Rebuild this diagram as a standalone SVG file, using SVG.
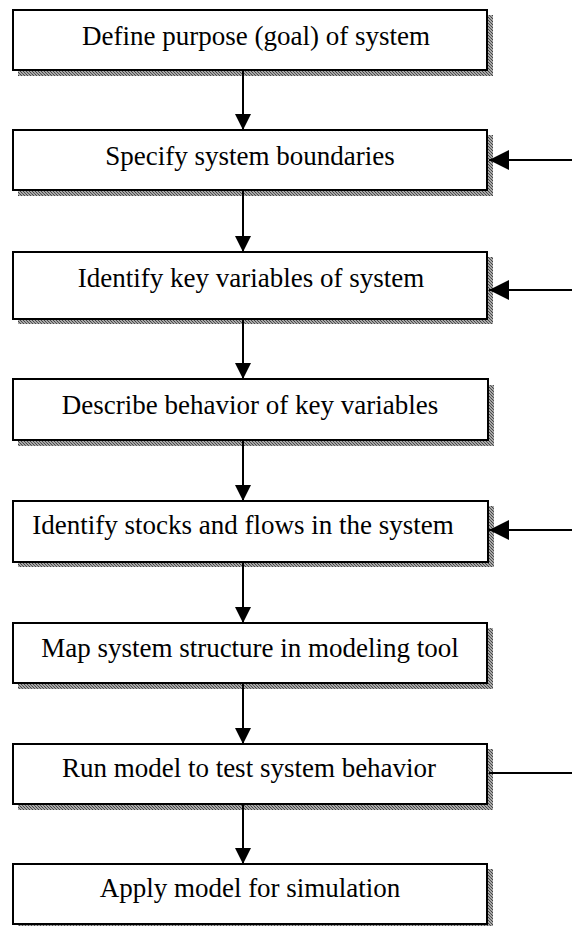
<svg xmlns="http://www.w3.org/2000/svg" width="572" height="926" viewBox="0 0 572 926">
<defs>
<pattern id="hatch" width="3" height="3" patternUnits="userSpaceOnUse">
<rect width="3" height="3" fill="#a8a8a8"/>
<rect x="0" y="0" width="1" height="1" fill="#444"/>
<rect x="1" y="1" width="1" height="1" fill="#555"/>
<rect x="2" y="2" width="1" height="1" fill="#444"/>
</pattern>
<marker id="ah" viewBox="0 0 16 16" refX="16" refY="8" markerWidth="16" markerHeight="16" markerUnits="userSpaceOnUse" orient="auto">
<path d="M0,0 L16,8 L0,16 Z" fill="#000"/>
</marker>
<marker id="ahs" viewBox="0 0 20 20" refX="20" refY="10" markerWidth="20" markerHeight="20" markerUnits="userSpaceOnUse" orient="auto">
<path d="M0,0 L20,10 L0,20 Z" fill="#000"/>
</marker>
</defs>
<style>
.sh{fill:url(#hatch);}
.bx{fill:#fff;stroke:#000;stroke-width:2;}
.t{font-family:"Liberation Serif","Times New Roman",serif;font-size:27px;fill:#000;text-anchor:middle;}
.c{stroke:#000;stroke-width:2;fill:none;}
</style>
<rect width="572" height="926" fill="#fff"/>
<g id="n1"><rect class="sh" x="18" y="15" width="475" height="61"/><rect class="bx" x="13" y="10" width="474" height="60"/><text class="t" x="256" y="45">Define purpose (goal) of system</text></g>
<g id="n2"><rect class="sh" x="18" y="135" width="475" height="61"/><rect class="bx" x="13" y="130" width="474" height="60"/><text class="t" x="250" y="165">Specify system boundaries</text></g>
<g id="n3"><rect class="sh" x="18" y="257" width="475" height="67"/><rect class="bx" x="13" y="252" width="474" height="67"/><text class="t" x="251" y="287">Identify key variables of system</text></g>
<g id="n4"><rect class="sh" x="18" y="385" width="476" height="61"/><rect class="bx" x="13" y="379" width="475" height="61"/><text class="t" x="250" y="414">Describe behavior of key variables</text></g>
<g id="n5"><rect class="sh" x="18" y="506" width="476" height="61"/><rect class="bx" x="13" y="501" width="475" height="61"/><text class="t" x="243" y="534">Identify stocks and flows in the system</text></g>
<g id="n6"><rect class="sh" x="18" y="628" width="475" height="61"/><rect class="bx" x="13" y="623" width="474" height="60"/><text class="t" x="250" y="657">Map system structure in modeling tool</text></g>
<g id="n7"><rect class="sh" x="18" y="749" width="475" height="61"/><rect class="bx" x="13" y="744" width="474" height="60"/><text class="t" x="249" y="777">Run model to test system behavior</text></g>
<g id="n8"><rect class="sh" x="18" y="869" width="475" height="61"/><rect class="bx" x="13" y="864" width="474" height="60"/><text class="t" x="250" y="897">Apply model for simulation</text></g>
<g id="connectors">
<line class="c" x1="243" y1="71" x2="243" y2="130" marker-end="url(#ah)"/>
<line class="c" x1="243" y1="191" x2="243" y2="252" marker-end="url(#ah)"/>
<line class="c" x1="243" y1="320" x2="243" y2="379" marker-end="url(#ah)"/>
<line class="c" x1="243" y1="441" x2="243" y2="501" marker-end="url(#ah)"/>
<line class="c" x1="243" y1="563" x2="243" y2="623" marker-end="url(#ah)"/>
<line class="c" x1="243" y1="684" x2="243" y2="744" marker-end="url(#ah)"/>
<line class="c" x1="243" y1="805" x2="243" y2="864" marker-end="url(#ah)"/>
<line class="c" x1="572" y1="160" x2="489" y2="160" marker-end="url(#ahs)"/>
<line class="c" x1="572" y1="290" x2="489" y2="290" marker-end="url(#ahs)"/>
<line class="c" x1="572" y1="530" x2="489" y2="530" marker-end="url(#ahs)"/>
<line class="c" x1="572" y1="773" x2="489" y2="773"/>
</g>
</svg>
